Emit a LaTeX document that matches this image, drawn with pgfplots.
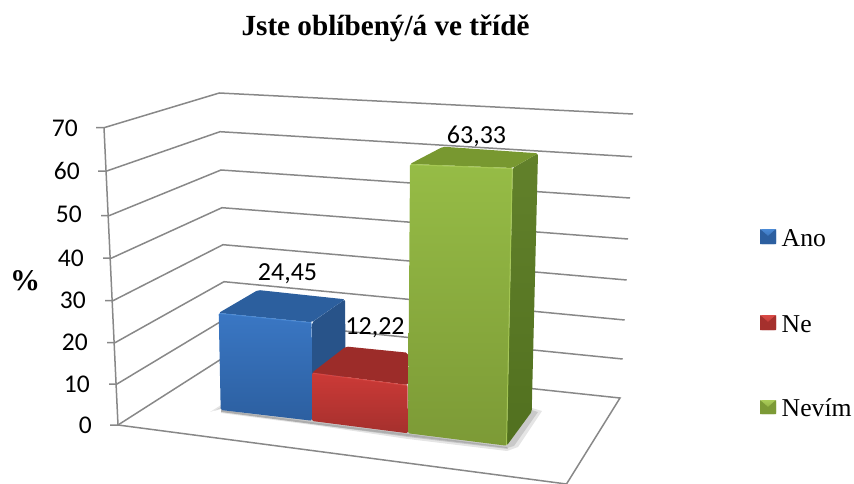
\documentclass[border=0pt]{standalone}
\usepackage{fontspec}
\setmainfont{Liberation Serif}
\newfontfamily\calib{Carlito}
\usepackage{pgfplots}
\pgfplotsset{compat=1.18}

% the chart is an oblique 3D view, so the axis runs in picture pixels
% bar values: Ano 24.45, Ne 12.22, Nevim 63.33
\definecolor{gridc}{HTML}{888888}
\definecolor{blueA}{HTML}{3A77C4}
\definecolor{blueB}{HTML}{2C5FA0}
\definecolor{blueT}{HTML}{2C5F9E}
\definecolor{blueS}{HTML}{285389}
\definecolor{blueL}{HTML}{4A8AD6}
\definecolor{redA}{HTML}{CC3A37}
\definecolor{redB}{HTML}{A5302D}
\definecolor{redT}{HTML}{9C2C29}
\definecolor{redL}{HTML}{DA4A46}
\definecolor{greenA}{HTML}{96BC46}
\definecolor{greenB}{HTML}{7C9A36}
\definecolor{greenT}{HTML}{789830}
\definecolor{greenS}{HTML}{62812B}
\definecolor{greenSB}{HTML}{51701F}
\definecolor{greenL}{HTML}{AACC58}

\newcommand{\gridl}[1]{\addplot[gridc, line width=1.5pt] coordinates {#1};}
\newcommand{\face}[3]{\addplot[draw=none, top color=#1, bottom color=#2, rounded corners=1.5pt] coordinates {#3} -- cycle;}
\newcommand{\solid}[2]{\addplot[draw=none, fill=#1, rounded corners=2pt] coordinates {#2} -- cycle;}
\newcommand{\bevel}[2]{\addplot[#1, line width=1pt, opacity=.8] coordinates {#2};}
\newcommand{\soft}[2]{\addplot[draw=none, fill=black, opacity=#1] coordinates {#2} -- cycle;}
\newcommand{\ticklab}[3]{\node[anchor=base east, inner sep=0pt, font=\calib\fontsize{25.5}{26}\selectfont] at (axis cs:#1,#2) {#3};}
\newcommand{\vallab}[3]{\node[anchor=base, inner sep=0pt, font=\calib\fontsize{26}{26}\selectfont] at (axis cs:#1,#2) {#3};}
\newcommand{\leglab}[2]{\node[anchor=base west, inner sep=0pt, font=\fontsize{25.7}{26}\selectfont] at (axis cs:781.5,#1) {#2};}

\begin{document}
\begin{tikzpicture}
\begin{axis}[
    scale only axis,
    width=854pt,
    height=484pt,
    xmin=0, xmax=854,
    ymin=0, ymax=484,
    y dir=reverse,
    hide axis,
    no markers,
]
% hold the page at the full frame
\path (axis cs:0,0) rectangle (axis cs:854,484);
% walls: tick, left wall, back wall
\gridl{(96,127.7) (104,127.7) (219.3,93) (633,114)}
\gridl{(98,171) (106.7,171) (220,131.7) (632,156.7)}
\gridl{(101,215.7) (109,215.7) (221,170) (630,198)}
\gridl{(103,258) (111.7,258) (222,207.7) (628,239)}
\gridl{(105,300.7) (113,300.7) (223,244.7) (626.7,280)}
\gridl{(107,342.7) (115,342.7) (224,281.7) (624.7,320)}
\gridl{(109,384) (117,384) (225,319) (622.7,359)}
\gridl{(110,425) (118,425) (226,356) (620,398) (566.5,484)}
\gridl{(118,425) (566.5,484)}
\gridl{(104,127.7) (118,425)}

% shadows on the floor
\soft{.10}{(210,412) (221,405) (221,413) (320,426) (408,439) (507,451) (518,447) (542,411) (532,408) (507,443) (408,431) (312,419) (221,408)}
\soft{.12}{(214,411) (221,407) (221,412) (312,424) (408,436) (507,448) (514,446) (538,412) (532,410) (507,445) (408,432) (312,420) (221,409)}
\soft{.14}{(221,410) (312,422) (408,434) (507,447) (508,449) (408,437) (312,424) (221,412)}

% Ano
\solid{blueS}{(312,322.3) (345,299.3) (346,400) (312,421)}
\solid{blueT}{(218.7,313) (258,290) (345,299.3) (311.7,322.3)}
\face{blueA}{blueB}{(218.7,313) (311.7,322.3) (312,420.7) (220.7,410)}
\bevel{blueL}{(219.5,313.5) (311.5,322.8)}
% Ne
\solid{redT}{(312,372.7) (346,346.5) (408,352.7) (408,385)}
\face{redA}{redB}{(312,372.7) (407.5,385) (408,433.3) (312,421)}
\bevel{redL}{(312.5,373.2) (407.5,385.5)}
% Nevim
\face{greenS}{greenSB}{(512.7,168) (538,153.3) (531.7,411.7) (506.7,445.7)}
\solid{greenT}{(410,164) (443,146.7) (538,153.3) (512.7,168)}
\face{greenA}{greenB}{(410,164) (512.7,168) (506.7,445.7) (408,433.3)}
\bevel{greenL}{(410.5,164.7) (512.2,168.7) (506.5,445)}

% legend keys
\face{blueL}{blueB}{(760,229) (776,229) (776,244) (760,244)}
\addplot[draw=none, fill=blueB] coordinates {(760,229) (768,236) (768,244) (760,244)} -- cycle;
\addplot[draw=none, fill=blueB] coordinates {(776,229) (768,236) (768,244) (776,244)} -- cycle;
\face{redL}{redB}{(760,315) (776,315) (776,330) (760,330)}
\addplot[draw=none, fill=redB] coordinates {(760,315) (768,322) (768,330) (760,330)} -- cycle;
\addplot[draw=none, fill=redB] coordinates {(776,315) (768,322) (768,330) (776,330)} -- cycle;
\face{greenL}{greenB}{(760,400) (776,400) (776,414) (760,414)}
\addplot[draw=none, fill=greenB] coordinates {(760,400) (768,407) (768,414) (760,414)} -- cycle;
\addplot[draw=none, fill=greenB] coordinates {(776,400) (768,407) (768,414) (776,414)} -- cycle;

% value labels
\vallab{287.5}{280}{24,45}
\vallab{375}{334}{12,22}
\vallab{476.5}{143}{63,33}

% tick labels
\ticklab{78}{136}{70}
\ticklab{80}{179.5}{60}
\ticklab{82}{222.5}{50}
\ticklab{84}{266.5}{40}
\ticklab{86}{308.5}{30}
\ticklab{88}{350.5}{20}
\ticklab{90}{392.5}{10}
\ticklab{92}{433.5}{0}

\node[anchor=base, inner sep=0pt, font=\bfseries\fontsize{30}{30}\selectfont] at (axis cs:25,290) {\%};
\node[anchor=base, inner sep=0pt, font=\bfseries\fontsize{29.2}{30}\selectfont] at (axis cs:385.5,36) {Jste oblíbený/á ve třídě};
\leglab{246}{Ano}
\leglab{332}{Ne}
\leglab{416}{Nevím}
\end{axis}
\end{tikzpicture}
\end{document}
